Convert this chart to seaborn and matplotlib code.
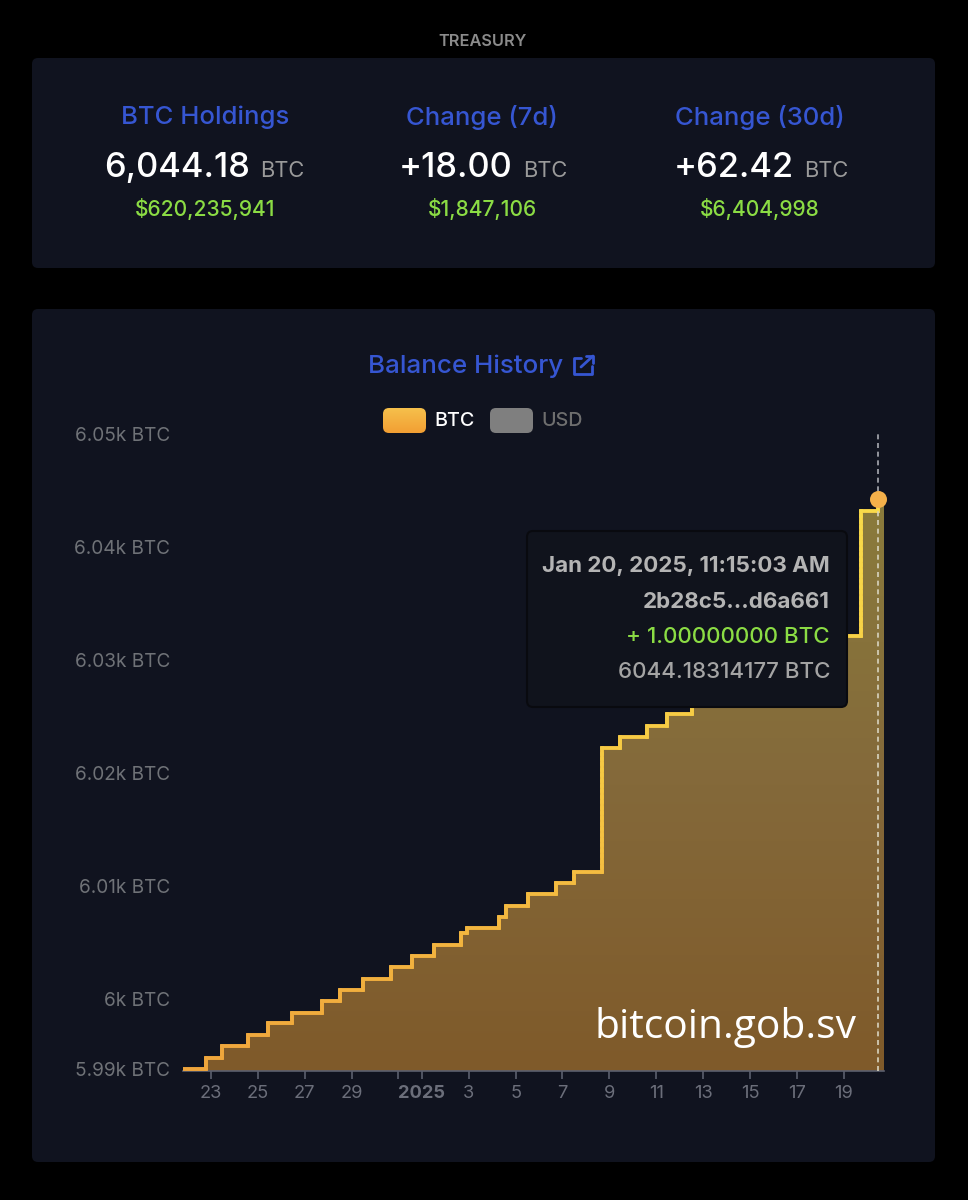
import numpy as np
import pandas as pd
import seaborn as sns
import matplotlib.pyplot as plt
from matplotlib.patches import FancyBboxPatch
from matplotlib.collections import LineCollection
from matplotlib.colors import LinearSegmentedColormap

# balance steps, x = days after Dec 23 2024 (midnight), y = BTC
days = [-1.195, -0.23, 0.46, 1.59, 2.45, 3.44, 4.75, 5.51, 6.47, 7.68, 8.57, 9.52,
        10.66, 10.91, 12.30, 12.59, 13.52, 14.72, 15.51, 16.69, 17.46, 18.60, 19.47,
        20.52, 21.6, 22.7, 23.8, 24.6, 25.5, 26.4, 27.74, 28.47, 28.72]
btc = [5993.8, 5994.8, 5995.8, 5996.8, 5997.85, 5998.8, 5999.8, 6000.8, 6001.8, 6002.8,
       6003.8, 6004.8, 6005.8, 6006.25, 6007.25, 6008.25, 6009.25, 6010.25, 6011.2,
       6022.2, 6023.2, 6024.2, 6025.2, 6026.2, 6027.2, 6028.2, 6029.2, 6030.2, 6031.2,
       6032.15, 6043.2, 6044.18, 6044.18]

x_ticks = [0, 2, 4, 6, 8, 9, 11, 13, 15, 17, 19, 21, 23, 25, 27]
x_labels = ['23', '25', '27', '29', '', '2025', '3', '5', '7', '9', '11', '13', '15', '17', '19']
y_ticks = [5993.8, 6000, 6010, 6020, 6030, 6040, 6050]
y_labels = ['5.99k BTC', '6k BTC', '6.01k BTC', '6.02k BTC', '6.03k BTC', '6.04k BTC', '6.05k BTC']

hover_day = 28.47
hover_btc = 6044.18

stat_titles = ['BTC Holdings', 'Change (7d)', 'Change (30d)']
stat_values = ['6,044.18', '+18.00', '+62.42']
stat_usd = ['$620,235,941', '$1,847,106', '$6,404,998']

tooltip_lines = ['Jan 20, 2025, 11:15:03 AM', '2b28c5...d6a661', '+ 1.00000000 BTC', '6044.18314177 BTC']

sns.set_style('dark')
plt.rcParams['font.family'] = ['Inter', 'DejaVu Sans']

BG = '#10131f'
BLUE = '#3656d2'
GREEN = '#8bdc44'
df = pd.DataFrame({'day': days, 'btc': btc})

fig = plt.figure(figsize=(9.68, 12), dpi=100, facecolor='black')


def px_axes(z):
    a = fig.add_axes([0, 0, 1, 1], zorder=z)
    a.set_xlim(0, 968)
    a.set_ylim(1200, 0)
    a.axis('off')
    a.patch.set_alpha(0)
    return a


back = px_axes(0)
front = px_axes(2)

# --- panels ---
for y0, y1 in [(58, 268), (309, 1162)]:
    back.add_patch(FancyBboxPatch((36, y0 + 4), 895, y1 - y0 - 8, boxstyle='round,pad=4,rounding_size=6',
                                  fc=BG, ec='none'))

back.text(482.5, 41.5, 'TREASURY', color='#8b8b8b', fontsize=11.8, fontweight='semibold', ha='center', va='center')

# --- stats row ---
centers = [205, 482, 760]
value_end = [250, 513, 794]
for i in range(3):
    back.text(centers[i], 117, stat_titles[i], color=BLUE, fontsize=18.5, fontweight='medium', ha='center', va='center')
    back.text(value_end[i], 177, stat_values[i], color='white', fontsize=24.8, fontweight='medium', ha='right', va='baseline')
    back.text(value_end[i] + 10, 177, 'BTC', color='#9a9a9a', fontsize=15.8, ha='left', va='baseline')
    back.text(centers[i], 209, stat_usd[i], color=GREEN, fontsize=15.1, fontweight='medium', ha='center', va='center')

# --- chart header and legend ---
back.text(466, 366, 'Balance History', color=BLUE, fontsize=18.7, fontweight='medium', ha='center', va='center')
back.plot([581, 574, 574, 592, 592], [358, 358, 374, 374, 366], color=BLUE, lw=2, solid_joinstyle='round')
back.plot([581, 593], [367, 356], color=BLUE, lw=2)
back.plot([586, 593, 593], [356, 356, 363], color=BLUE, lw=2)

swatch = FancyBboxPatch((386, 411), 37, 19, boxstyle='round,pad=3,rounding_size=6', fc='none', ec='none')
back.add_patch(swatch)
grad = back.imshow(np.linspace(0, 1, 50).reshape(-1, 1),
                   cmap=LinearSegmentedColormap.from_list('sw', ['#f6c04c', '#f29f33']),
                   extent=(383, 426, 433, 408), aspect='auto', zorder=1)
grad.set_clip_path(swatch)
back.set_xlim(0, 968)
back.set_ylim(1200, 0)
back.add_patch(FancyBboxPatch((493, 411), 37, 19, boxstyle='round,pad=3,rounding_size=6', fc='#7f7f7f', ec='none'))
back.text(434, 421, 'BTC', color='white', fontsize=14.2, fontweight='medium', ha='left', va='center')
back.text(541, 421, 'USD', color='#6e6e6e', fontsize=14.2, fontweight='medium', ha='left', va='center')

# --- chart ---
ax = fig.add_axes([183 / 968, 1 - 1071 / 1200, 701 / 968, 637 / 1200], zorder=1)
ax.patch.set_alpha(0)
x_min, x_max = days[0], days[-1]
y_min, y_max = 5993.63, 6050

# gradient area below the steps
area = ax.fill_between(days, btc, y_min, step='post', color='none')
fill_cmap = LinearSegmentedColormap.from_list('fill', ['#7f5a2a', '#84693a', '#8a7b3c'])
img = ax.imshow(np.linspace(1, 0, 200).reshape(-1, 1), cmap=fill_cmap, aspect='auto',
                extent=(x_min, x_max, y_min, hover_btc), zorder=1)
img.set_clip_path(area.get_paths()[0], ax.transData)

# seaborn draws the line, segments on top pick up the colour change with height
sns.lineplot(data=df, x='day', y='btc', drawstyle='steps-post', color='#f0a63c', lw=2.6, ax=ax, zorder=3)
line_cmap = LinearSegmentedColormap.from_list('line', ['#efa53c', '#f6c843', '#f8dc4a'])
sx, sy = [], []
for i in range(len(days) - 1):
    sx += [days[i], days[i + 1]]
    sy += [btc[i], btc[i]]
segs, cols = [], []
for i in range(len(sx) - 1):
    n = max(2, int(abs(sy[i + 1] - sy[i]) * 2) + 2)
    xs = np.linspace(sx[i], sx[i + 1], n)
    ys = np.linspace(sy[i], sy[i + 1], n)
    for j in range(n - 1):
        segs.append([(xs[j], ys[j]), (xs[j + 1], ys[j + 1])])
        cols.append(line_cmap((ys[j] - y_min) / (hover_btc - y_min)))
ax.add_collection(LineCollection(segs, colors=cols, linewidths=2.6, capstyle='projecting', zorder=4))

ax.plot([hover_day, hover_day], [y_min, hover_btc], color='#d8d4c0', lw=1.2, ls=(0, (3, 2.2)), zorder=5)
ax.plot([hover_day, hover_day], [hover_btc, y_max], color='#a9abb2', lw=1.2, ls=(0, (3, 2.2)), zorder=5)
sns.scatterplot(x=[hover_day], y=[hover_btc + 0.08], color='#f4b04a', s=150, linewidth=0, ax=ax, zorder=6, clip_on=False)

ax.set_xlim(x_min, x_max)
ax.set_ylim(y_min, y_max)
ax.set_xlabel('')
ax.set_ylabel('')
ax.grid(False)
ax.set_xticks(x_ticks)
ax.set_xticklabels(x_labels)
ax.set_yticks(y_ticks)
ax.set_yticklabels(y_labels)
ax.tick_params(axis='x', bottom=True, length=6, width=1.2, color='#5b5f6e', labelcolor='#6b6e7a', labelsize=13.2, pad=4)
ax.tick_params(axis='y', left=False, length=0, labelcolor='#6f7277', labelsize=13.7, pad=9.2)
for lab in ax.get_xticklabels():
    if lab.get_text() == '2025':
        lab.set_fontweight('bold')
for s in ['top', 'left', 'right']:
    ax.spines[s].set_visible(False)
ax.spines['bottom'].set_color('#5b5f6e')
ax.spines['bottom'].set_linewidth(1.2)

# --- tooltip and watermark ---
front.add_patch(FancyBboxPatch((531, 535), 312, 168, boxstyle='round,pad=4,rounding_size=6',
                               fc='#10131c', ec='#090a0f', lw=1.5))
tip_y = [566, 602, 637, 672]
tip_col = ['#b4b4b4', '#b4b4b4', GREEN, '#a4a4a4']
tip_wt = ['bold', 'bold', 'medium', 'medium']
for t, y, c, w in zip(tooltip_lines, tip_y, tip_col, tip_wt):
    front.text(830, y, t, color=c, fontsize=16.1, fontweight=w, ha='right', va='center')
front.text(857, 1027, 'bitcoin.gob.sv', color='white', fontsize=29.3, family='Open Sans', ha='right', va='center')

fig.savefig('out.png', dpi=100, facecolor='black')
